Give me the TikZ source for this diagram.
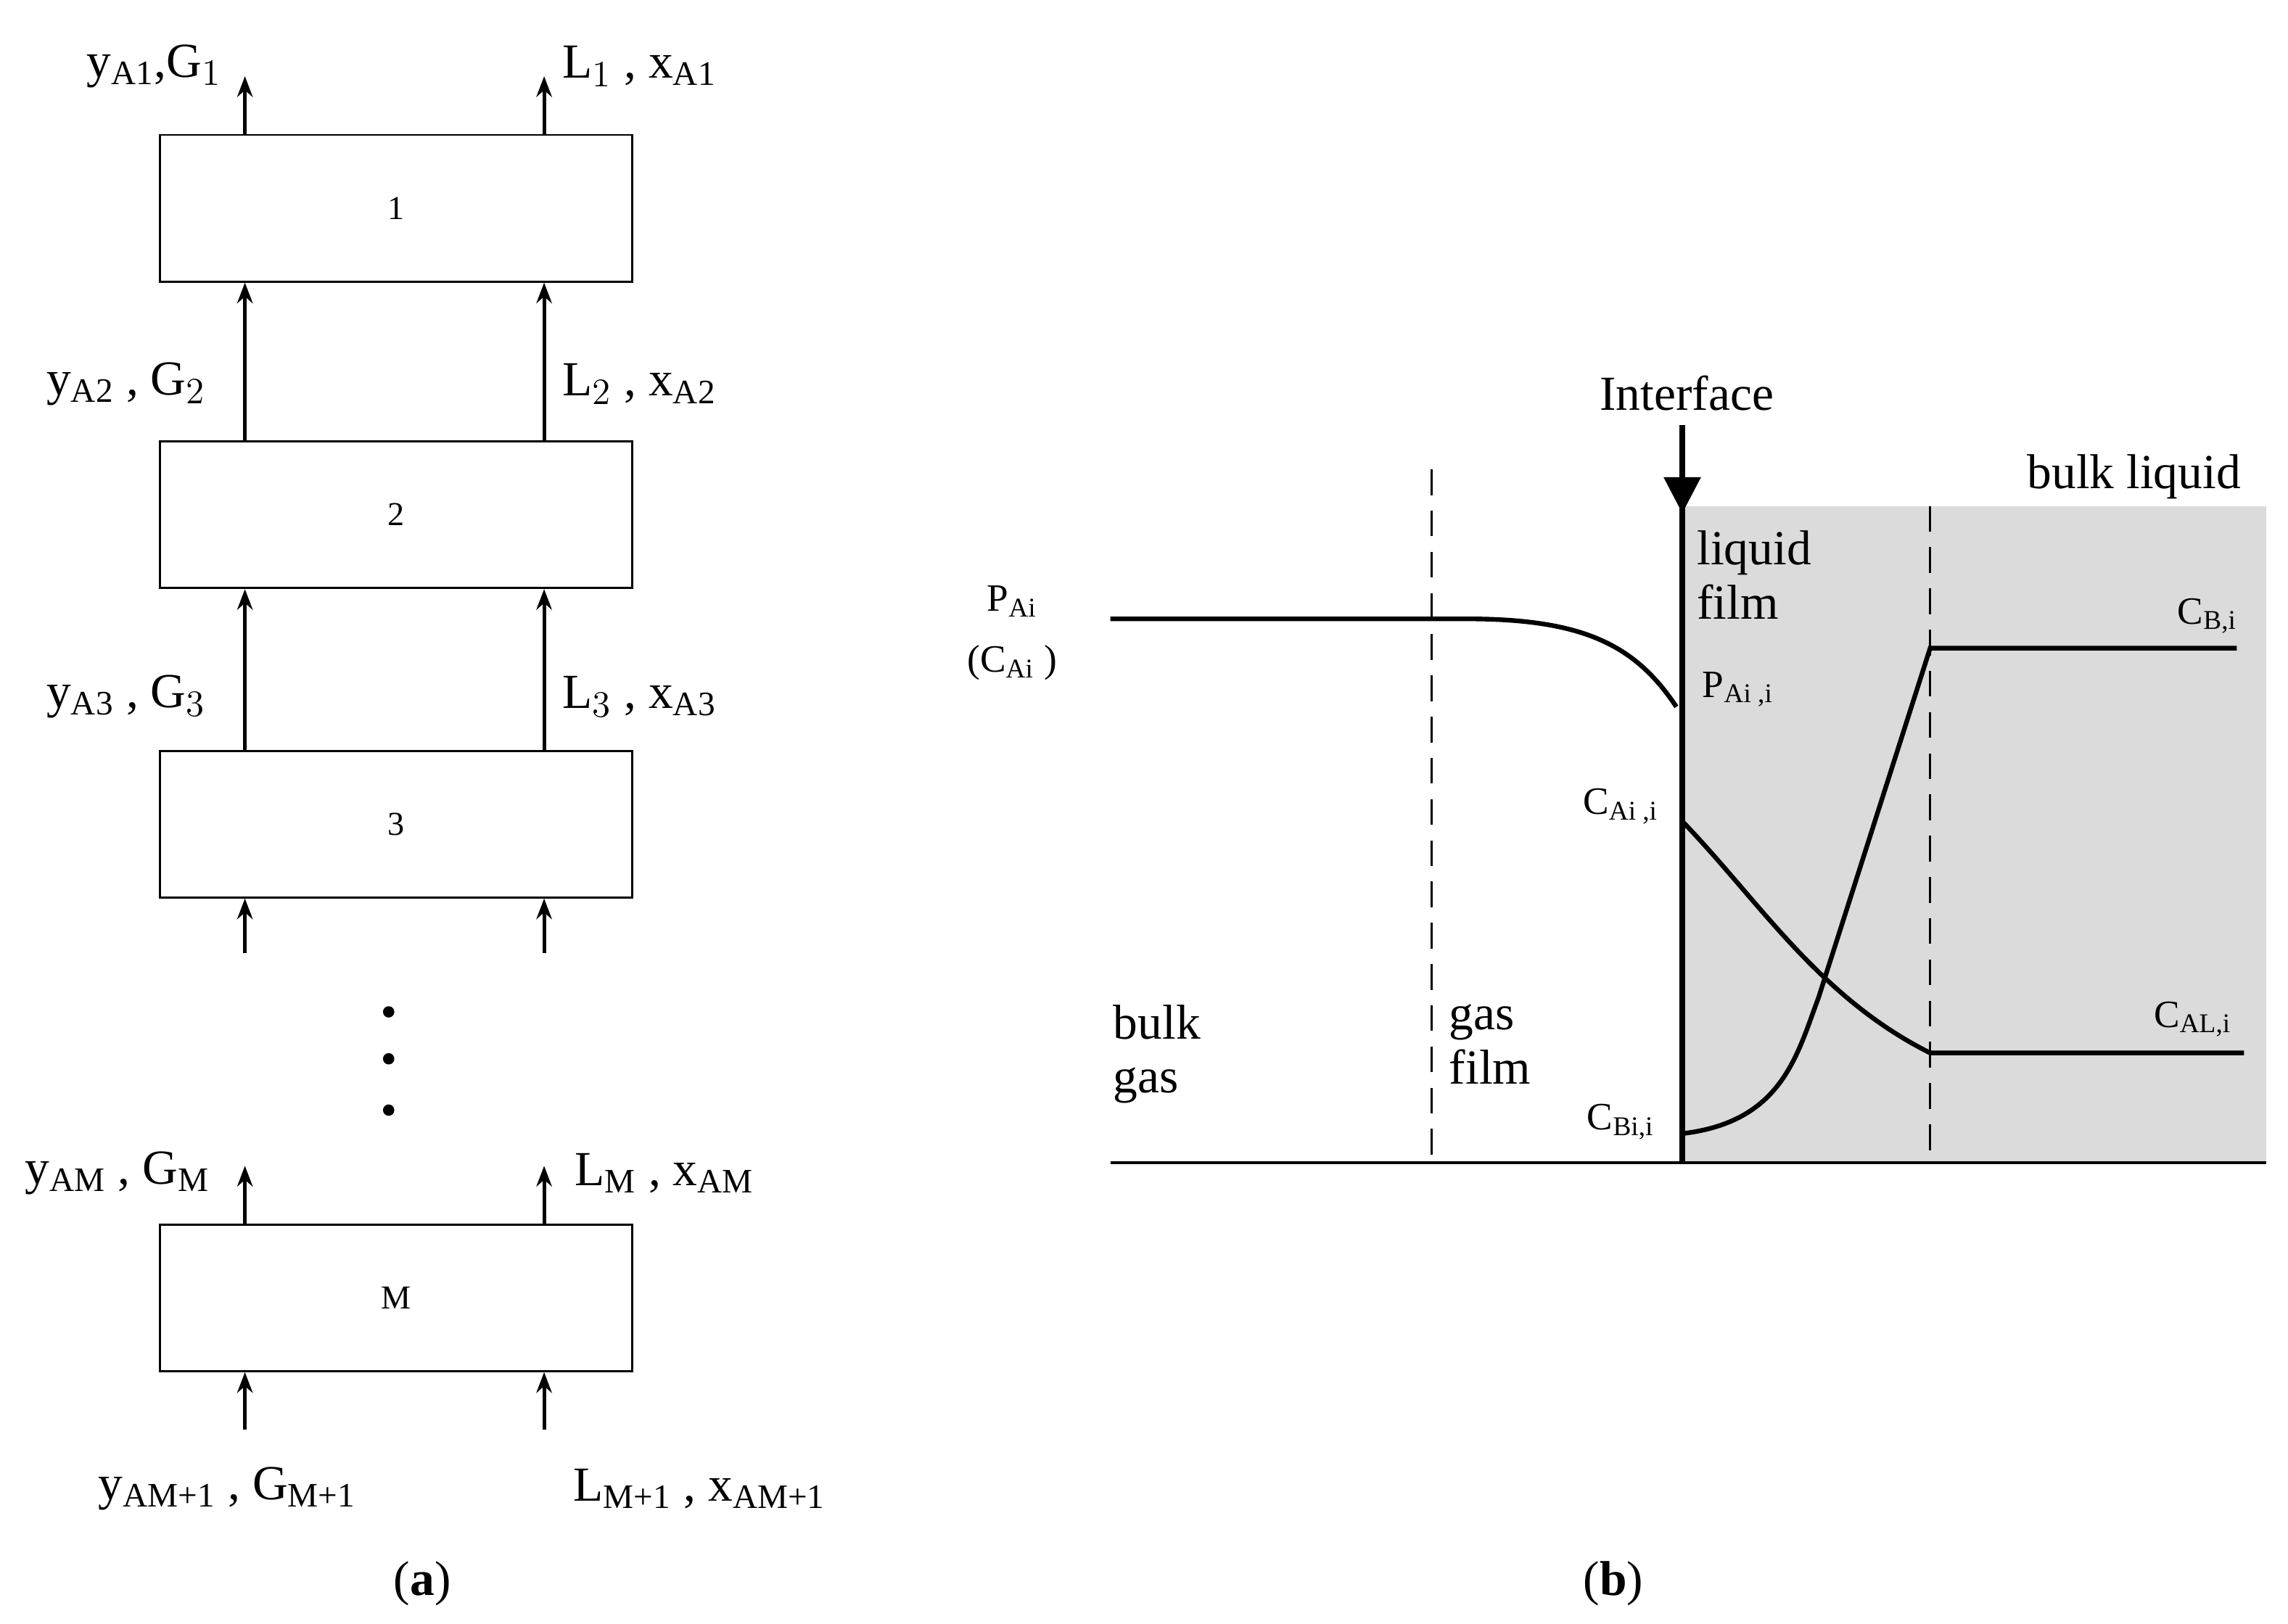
\documentclass[tikz,border=0pt]{standalone}
\usepackage{amsmath}
\usepackage{fontspec}
\setmainfont{Liberation Serif}
\usetikzlibrary{arrows.meta,positioning}

\begin{document}
\begin{tikzpicture}[x=0.02cm,y=-0.02cm,
		stage/.style={draw,thick,minimum width=6.44cm,minimum height=2cm,font=\fontsize{13}{15}\selectfont},
		flow/.style={-{Stealth[length=8pt,width=6pt]},line width=1.4pt},
		film/.style={thick,dash pattern=on 10pt off 6pt},
		lbl/.style={font=\fontsize{19}{21}\selectfont,inner sep=1pt},
		sm/.style={font=\fontsize{15}{17}\selectfont,inner sep=1pt}]
		\useasboundingbox (0,0) rectangle (1560,1107);

		% stages
		\node[stage] (s1) at (270,142) {1};
		\node[stage] (s2) at (270,351) {2};
		\node[stage] (s3) at (270,562) {3};
		\node[stage] (sM) at (270,885) {M};

		\foreach \x/\n in {167/g,371/l} {
			\coordinate (\n0) at (\x,52);
			\coordinate (\n3) at (\x,650);
			\coordinate (\n4) at (\x,795);
			\coordinate (\n5) at (\x,975);
			\draw[flow] (\n0 |- s1.north) -- (\n0);
			\draw[flow] (\n0 |- s2.north) -- (\n0 |- s1.south);
			\draw[flow] (\n0 |- s3.north) -- (\n0 |- s2.south);
			\draw[flow] (\n3) -- (\n0 |- s3.south);
			\draw[flow] (\n0 |- sM.north) -- (\n4);
			\draw[flow] (\n5) -- (\n0 |- sM.south);
		}
		\foreach \y in {690,722,757} \fill (265,\y) circle (2.2pt);

		\node[lbl] at (105,45) {y$_{\text{A1}}$,G$_1$};
		\node[lbl] at (436,45) {L$_1$ , x$_{\text{A1}}$};
		\node[lbl] at (86,262) {y$_{\text{A2}}$ , G$_2$};
		\node[lbl] at (436,262) {L$_2$ , x$_{\text{A2}}$};
		\node[lbl] at (86,475) {y$_{\text{A3}}$ , G$_3$};
		\node[lbl] at (436,475) {L$_3$ , x$_{\text{A3}}$};
		\node[lbl] at (80,800) {y$_{\text{AM}}$ , G$_{\text{M}}$};
		\node[lbl] at (453,800) {L$_{\text{M}}$ , x$_{\text{AM}}$};
		\node[lbl] at (155,1015) {y$_{\text{AM+1}}$ , G$_{\text{M+1}}$};
		\node[lbl] at (477,1015) {L$_{\text{M+1}}$ , x$_{\text{AM+1}}$};
		\node[lbl] at (288,1080) {(\textbf{a})};
		\node[lbl] at (1100,1080) {(\textbf{b})};

		% film model
		\fill[gray!28] (1147,345) rectangle (1545,793);
		\draw[line width=1.2pt] (757,793) -- (1545,793);
		\draw[film] (976,320) -- (976,793);
		\draw[film] (1316,345) -- (1316,793);
		\coordinate (ifb) at (1147,793);
		\node[lbl] (ifc) at (1150,268) {Interface};
		\draw[line width=2pt] (ifc.south -| ifb) ++(0,8) -- (ifb);
		\draw[-{Triangle[length=14pt,width=14pt]},line width=2pt] (1147,290) -- (1147,350);

		\draw[line width=1.8pt] (757,422) -- (1000,422) .. controls (1080,422) and (1115,440) .. (1143,482);
		\draw[line width=1.8pt] (1147,773) .. controls (1215,765) and (1225,720) .. (1240,680) -- (1316,442) -- (1525,442);
		\draw[line width=1.8pt] (1147,560) .. controls (1200,615) and (1240,680) .. (1316,718) -- (1530,718);

		\node[sm] at (690,410) {P$_{\text{Ai}}$};
		\node[sm] at (690,452) {(C$_{\text{Ai}}$ )};
		\node[lbl,align=left,anchor=north west] at (1155,360) {liquid\\film};
		\node[lbl] at (1455,325) {bulk liquid};
		\node[sm] at (1185,470) {P$_{\text{Ai ,i}}$};
		\node[sm] at (1105,550) {C$_{\text{Ai ,i}}$};
		\node[sm] at (1505,420) {C$_{\text{B,i}}$};
		\node[sm] at (1495,695) {C$_{\text{AL,i}}$};
		\node[sm] at (1105,765) {C$_{\text{Bi,i}}$};
		\node[lbl,align=left,anchor=north west] at (757,683) {bulk\\gas};
		\node[lbl,align=left,anchor=north west] at (986,683) {gas\\film};
\end{tikzpicture}
\end{document}
